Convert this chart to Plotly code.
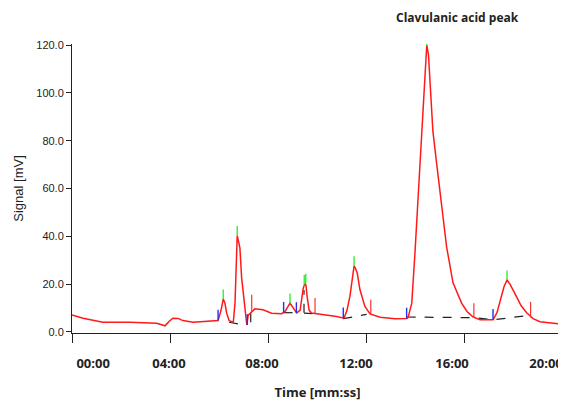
import plotly.graph_objects as go

# ---- data (time in minutes, signal in chart units) ----
time_min = [0.00, 0.45, 1.26, 2.36, 3.45, 3.62, 3.79, 3.95, 4.11, 4.32, 4.52, 4.93, 5.62, 5.95,
            6.07, 6.16, 6.23, 6.30, 6.40, 6.57, 6.64, 6.67, 6.71, 6.73, 6.78, 6.84, 6.91, 7.02,
            7.08, 7.12, 7.18, 7.32, 7.45, 7.78, 8.13, 8.54, 8.68, 8.88, 9.00, 9.15, 9.29, 9.37,
            9.42, 9.49, 9.53, 9.58, 9.66, 9.76, 10.10, 10.78, 11.08, 11.20, 11.32, 11.41, 11.49,
            11.55, 11.62, 11.73, 11.93, 12.14, 12.55, 13.16, 13.65, 13.69, 13.84, 13.97, 14.09,
            14.18, 14.30, 14.38, 14.45, 14.52, 14.58, 14.70, 14.85, 15.06, 15.26, 15.52, 15.87,
            16.09, 16.33, 16.62, 17.15, 17.31, 17.47, 17.60, 17.72, 17.84, 18.11, 18.29, 18.52,
            18.78, 19.06, 19.47, 19.88]
signal = [7.1, 5.7, 4.0, 4.0, 3.6, 3.0, 2.5, 4.3, 5.7, 5.6, 4.7, 4.0, 4.4, 4.7,
          9.0, 13.7, 12.0, 7.8, 4.7, 4.0, 12.0, 22.6, 34.0, 40.3, 38.0, 35.0, 22.6, 12.7,
          7.0, 2.9, 7.0, 8.5, 9.6, 9.2, 7.8, 7.6, 8.5, 12.0, 10.0, 7.9, 9.0, 14.0,
          18.3, 20.3, 19.5, 14.5, 9.0, 7.9, 7.5, 6.4, 5.7, 9.0, 14.8, 22.0, 27.6,
          26.5, 24.5, 17.6, 10.6, 7.5, 6.1, 5.5, 5.6, 6.0, 12.0, 33.0, 55.0,
          70.6, 95.0, 112.0, 120.0, 116.0, 105.0, 84.0, 70.7, 52.0, 35.5, 20.5, 12.0,
          8.5, 6.3, 5.0, 5.0, 8.0, 14.0, 19.0, 21.7, 20.0, 14.6, 11.0, 8.0,
          5.5, 4.2, 3.6, 3.3]

# peak apex markers (green)
apex_t = [6.16, 6.73, 8.88, 9.46, 9.52, 11.49, 14.45, 17.72]
apex_v = [13.7, 40.3, 12.0, 19.8, 20.3, 27.6, 120.0, 21.7]
# peak start markers (blue)
start_t = [5.95, 7.14, 8.62, 9.14, 11.05, 13.63, 17.15]
start_v = [4.7, 2.9, 8.0, 7.9, 5.7, 5.6, 5.0]
# integration event marks (red)
event_t = [7.32, 9.90, 12.17, 16.37, 18.68]
event_v = [8.5, 7.7, 7.4, 6.2, 6.0]
event_h = [7.0, 6.5, 6.0, 5.8, 6.5]
# baselines (black dashed), segments separated by None
base_t = [6.40, 7.12, None, 7.28, 7.28, None, 8.62, 9.14, None, 9.45, 9.45, None,
          9.45, 9.80, None, 11.05, 12.00, None, 13.63, 16.45, 17.15, 18.70]
base_v = [4.0, 2.6, None, 4.0, 8.0, None, 8.0, 8.0, None, 8.0, 17.5, None,
          7.8, 7.6, None, 5.5, 7.3, None, 6.2, 5.9, 5.0, 7.0]

x_tick_vals = [0, 4, 8, 12, 16, 20]
x_label_pos = [0.86, 3.95, 7.74, 11.57, 15.48, 19.31]
x_tick_text = ["00:00", "04:00", "08:00", "12:00", "16:00", "20:00"]
y_tick_vals = [0, 20, 40, 60, 80, 100, 120]
y_tick_text = ["0.0", "20.0", "40.0", "60.0", "80.0", "100.0", "120.0"]


def segs(ts, vs, hs):
    xs, ys = [], []
    for t, v, h in zip(ts, vs, hs):
        xs += [t, t, None]
        ys += [v, v + h, None]
    return xs, ys


fig = go.Figure()

fig.add_trace(go.Scatter(x=base_t, y=base_v, mode="lines",
                         line=dict(color="#222222", width=1.2, dash="dash"),
                         hoverinfo="skip", showlegend=False))

fig.add_trace(go.Scatter(x=time_min, y=signal, mode="lines", line=dict(color="#ff1a1a", width=1.5),
                         showlegend=False, name="Signal"))

ex, ey = segs(event_t, event_v, event_h)
fig.add_trace(go.Scatter(x=ex, y=ey, mode="lines", line=dict(color="#ff3030", width=1.2),
                         hoverinfo="skip", showlegend=False))
sx, sy = segs(start_t, start_v, [4.5] * len(start_t))
fig.add_trace(go.Scatter(x=sx, y=sy, mode="lines", line=dict(color="#2233ee", width=1.4),
                         hoverinfo="skip", showlegend=False))
ax_, ay_ = segs(apex_t, apex_v, [4.0] * len(apex_t))
fig.add_trace(go.Scatter(x=ax_, y=ay_, mode="lines", line=dict(color="#33ee33", width=1.4),
                         hoverinfo="skip", showlegend=False))

# invisible trace on label axis
fig.add_trace(go.Scatter(x=[0, 20], y=[None, None], xaxis="x2", showlegend=False, hoverinfo="skip"))

# page body has an 8px margin, so the figure is drawn 8px smaller and offset
fig.update_layout(
    width=558, height=393,
    margin=dict(l=64, r=3, t=36, b=68),
    paper_bgcolor="white", plot_bgcolor="white",
    xaxis=dict(range=[0, 20], tickvals=x_tick_vals, showticklabels=False, automargin=False,
               ticks="outside", ticklen=9, tickcolor="#222", tickwidth=1,
               showline=True, linecolor="#222", linewidth=1, showgrid=False, zeroline=False,
               title=dict(text="Time [mm:ss]", standoff=48,
                          font=dict(family="Open Sans", size=13, color="#222", weight="bold"))),
    xaxis2=dict(range=[0, 20], overlaying="x", side="bottom", anchor="y", automargin=False,
                tickvals=x_label_pos, ticktext=x_tick_text,
                ticks="outside", ticklen=18, tickcolor="rgba(0,0,0,0)",
                showline=False, showgrid=False, zeroline=False,
                tickfont=dict(family="Open Sans", size=13, color="#222", weight="bold")),
    yaxis=dict(range=[-0.5, 120.5], tickvals=y_tick_vals, ticktext=y_tick_text, automargin=False,
               ticks="outside", ticklen=5, tickcolor="#222", tickwidth=1,
               showline=True, linecolor="#222", linewidth=1, showgrid=False, zeroline=False,
               tickfont=dict(family="Liberation Sans", size=11, color="#222"),
               title=dict(text="Signal [mV]", standoff=9,
                          font=dict(family="Liberation Sans", size=13, color="#222"))),
    annotations=[dict(text="<b>Clavulanic acid peak</b>", x=15.72, xref="x", y=1.09, yref="paper",
                      yanchor="middle", showarrow=False,
                      font=dict(family="Open Sans", size=12, color="#222"))],
)

fig.write_html("out.html")
